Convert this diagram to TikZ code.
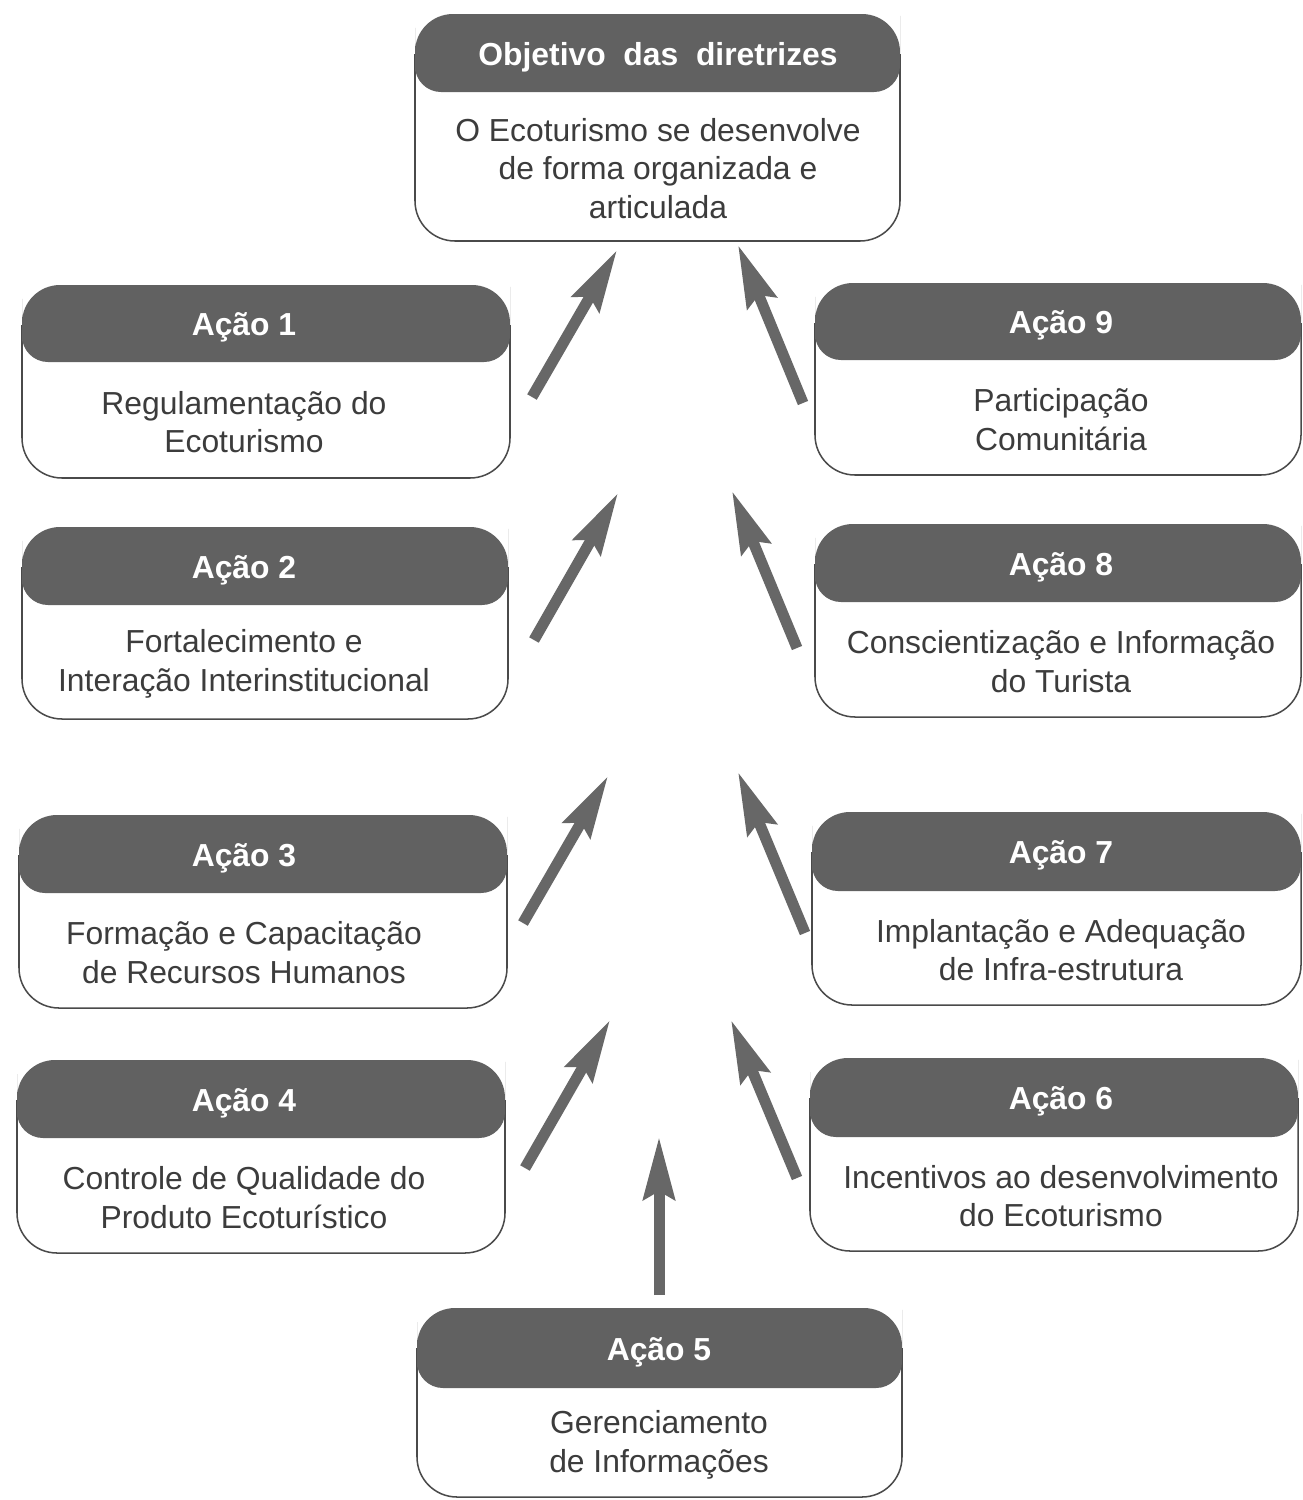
\documentclass[tikz,border=0pt]{standalone}
\usepackage{fontspec}
\setmainfont{Liberation Sans}
\usetikzlibrary{arrows.meta}
\definecolor{headgray}{HTML}{616161}
\definecolor{linegray}{HTML}{4A4A4A}
\definecolor{txtgray}{HTML}{3C3C3C}
\definecolor{arrgray}{HTML}{676767}
\tikzset{
  boxline/.style={draw=linegray, line width=1.1pt, fill=white},
  headfill/.style={fill=headgray},
  titletext/.style={text=white, font=\fontsize{23}{27}\selectfont\bfseries, inner sep=0pt},
  bodytext/.style={text=txtgray, font=\fontsize{23}{28}\selectfont, align=center, inner sep=0pt},
  upar/.style={draw=arrgray, line width=0.11in, -{Stealth[length=0.62in, width=0.31in, inset=0.08in]}},
}
% #1 name, #2 x1, #3 y1, #4 x2, #5 y2, #6 header bottom y, #7 title, #8 body, #9 text centre x
\newcommand{\ecobox}[9]{%
  \draw[boxline, rounded corners=0.4in] (#2,{#3+40}) -- (#2,#5) -- (#4,#5) -- (#4,{#3+40});
  \fill[headfill] (#2,{#3+40}) [rounded corners=0.38in] -- (#2,#3) -- (#4,#3) -- (#4,{#3+40})
     [rounded corners=0.26in] -- (#4,#6) -- (#2,#6) -- cycle;
  \node[titletext] (#1t) at (#9,{(#3+#6)/2+4}) {#7};
  \node[bodytext] (#1b) at (#9,{(#6+#5)/2+2}) {#8};
}
\begin{document}
\begin{tikzpicture}[x=0.01in, y=-0.01in]
\useasboundingbox (0,0) rectangle (1303,1500);
\fill[white] (0,0) rectangle (1303,1500);

\ecobox{obj}{415}{14}{900}{241}{92}{Objetivo\ \ das\ \ diretrizes}{O Ecoturismo se desenvolve\\de forma organizada e\\articulada}{658}
\ecobox{a1}{22}{285}{510}{478}{362}{Ação 1}{Regulamentação do\\Ecoturismo}{244}
\ecobox{a2}{22}{527}{508}{719}{605}{Ação 2}{Fortalecimento e\\Interação Interinstitucional}{244}
\ecobox{a3}{19}{815}{507}{1008}{893}{Ação 3}{Formação e Capacitação\\de Recursos Humanos}{244}
\ecobox{a4}{17}{1060}{505}{1253}{1138}{Ação 4}{Controle de Qualidade do\\Produto Ecoturístico}{244}
\ecobox{a5}{417}{1308}{902}{1497}{1388}{Ação 5}{Gerenciamento\\de Informações}{659}
\ecobox{a6}{810}{1058}{1298}{1251}{1137}{Ação 6}{Incentivos ao desenvolvimento\\do Ecoturismo}{1061}
\ecobox{a7}{812}{812}{1301}{1005}{891}{Ação 7}{Implantação e Adequação\\de Infra-estrutura}{1061}
\ecobox{a8}{815}{524}{1301}{717}{602}{Ação 8}{Conscientização e Informação\\do Turista}{1061}
\ecobox{a9}{815}{283}{1301}{475}{360}{Ação 9}{Participação\\Comunitária}{1061}

% arrow end points
\coordinate (s1) at (532,397); \coordinate (e1) at (617,250);
\coordinate (s2) at (534,640); \coordinate (e2) at (618,493);
\coordinate (s3) at (523,923); \coordinate (e3) at (608,776);
\coordinate (s4) at (525,1168); \coordinate (e4) at (610,1020);
\coordinate (s9) at (803,403); \coordinate (e9) at (738,245);
\coordinate (s8) at (797,648); \coordinate (e8) at (732,491);
\coordinate (s7) at (805,933); \coordinate (e7) at (738,772);
\coordinate (s6) at (797,1178); \coordinate (e6) at (731,1020);
\coordinate (s5) at (659,1295); \coordinate (e5) at (659,1137);

\foreach \i in {1,...,9} { \draw[upar] (s\i) -- (e\i); }
\end{tikzpicture}
\end{document}
